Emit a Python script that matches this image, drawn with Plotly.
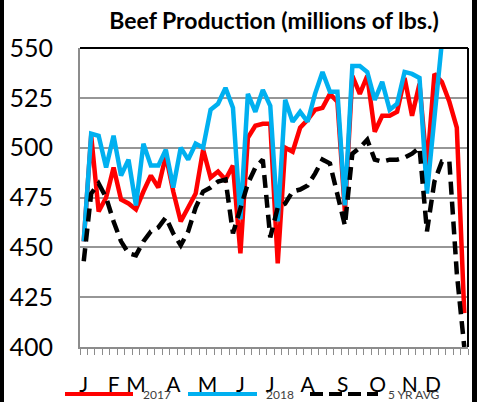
import plotly.graph_objects as go

# ---- data (weekly, 52 weeks) ----
weeks = list(range(1, 53))
prod_2017 = [453, 506, 468, 475, 490, 474, 472, 469, 478, 486, 480, 496, 478, 463, 470, 477,
             499, 485, 488, 484, 491, 447, 505, 511, 512, 512, 442, 500, 498, 510, 514, 519,
             520, 527, 523, 468, 536, 527, 536, 508, 516, 516, 518, 535, 516, 532, 490, 537,
             533, 523, 510, 417]
prod_2018 = [453, 507, 506, 490, 506, 486, 494, 471, 502, 491, 491, 499, 480, 500, 494, 502,
             500, 519, 522, 530, 520, 464, 527, 518, 529, 521, 463, 524, 513, 518, 513, 527,
             538, 528, 528, 471, 541, 541, 538, 524, 533, 519, 522, 538, 537, 535, 477, 515,
             553, None, None, None]
avg_5yr = [443, 477, 482, 475, 463, 453, 447, 446, 453, 458, 460, 465, 457, 451, 458, 470,
           478, 480, 483, 484, 457, 470, 482, 490, 494, 455, 470, 472, 478, 479, 481, 487,
           494, 492, 477, 461, 497, 500, 504, 494, 493, 494, 494, 495, 497, 500, 458, 483,
           493, 493, 437, 400]
month_labels = ["J", "F", "M", "A", "M", "J", "J", "A", "S", "O", "N", "D"]
month_weeks = [1, 5, 8, 13, 17.6, 22, 26, 31, 35.7, 40.4, 44.7, 47.8]
y_ticks = [400, 425, 450, 475, 500, 525, 550]

FONT = "Lato"
RED = "#FF0000"
BLUE = "#00B0F0"

fig = go.Figure()
fig.add_trace(go.Scatter(x=weeks, y=prod_2017, mode="lines", name="2017",
                         line=dict(color=RED, width=4.5), showlegend=False))
fig.add_trace(go.Scatter(x=weeks, y=prod_2018, mode="lines", name="2018",
                         line=dict(color=BLUE, width=4.5), showlegend=False))
fig.add_trace(go.Scatter(x=weeks, y=avg_5yr, mode="lines", name="5 YR AVG",
                         line=dict(color="black", width=4.5, dash="13px,7px"), showlegend=False))

fig.update_layout(
    width=477, height=402,
    margin=dict(l=80, r=9, t=48, b=55, autoexpand=False),
    paper_bgcolor="white", plot_bgcolor="white",
    font=dict(family=FONT, color="black"),
    title=dict(text="<b>Beef Production (millions of lbs.)</b>", x=0.5, xref="paper",
               y=1 - 21 / 402, yref="container", yanchor="middle", xanchor="center",
               font=dict(family=FONT, size=23, color="black")),
    xaxis=dict(range=[0.5, 52.5], tickmode="array", tickvals=month_weeks, ticktext=month_labels,
               ticks="", showgrid=False, zeroline=False, showline=True, linecolor="#8c8c8c",
               linewidth=2, tickfont=dict(size=21, family=FONT), ticklabelstandoff=18,
               automargin=False,
               minor=dict(tick0=0.5, dtick=1, ticks="outside", ticklen=6, tickcolor="#8c8c8c",
                          tickwidth=1, showgrid=False)),
    yaxis=dict(range=[400, 550], tickmode="array", tickvals=y_ticks, ticks="",
               showgrid=True, gridcolor="#969696", gridwidth=2, zeroline=False,
               showline=True, linecolor="#8c8c8c", linewidth=2, automargin=False,
               tickfont=dict(size=25, family=FONT), ticklabelstandoff=20),
)

W, H = 388.0, 299.0
def px(x):
    return (x - 80) / W
def py(y):
    return (347 - y) / H

# plot-area frame (top/right) and dark outer side edges
fig.add_shape(type="line", xref="paper", yref="paper", x0=0, x1=1, y0=1, y1=1,
              line=dict(color="black", width=2))
fig.add_shape(type="line", xref="paper", yref="paper", x0=1, x1=1, y0=0, y1=1,
              line=dict(color="black", width=2))
fig.add_shape(type="rect", xref="paper", yref="paper", x0=px(0), x1=px(4), y0=py(402), y1=py(0),
              line=dict(width=0), fillcolor="black")
fig.add_shape(type="rect", xref="paper", yref="paper", x0=px(472), x1=px(477), y0=py(402), y1=py(0),
              line=dict(width=0), fillcolor="black")

# legend drawn at the bottom
legend_items = [("2017", RED, "solid", 65, 133, 141),
                ("2018", BLUE, "solid", 188, 257, 264),
                ("5 YR AVG", "black", "13px,6px", 310, 378, 386)]
for name, col, dash, xa, xb, xt in legend_items:
    fig.add_shape(type="line", xref="paper", yref="paper", x0=px(xa), x1=px(xb),
                  y0=py(394), y1=py(394), line=dict(color=col, width=4, dash=dash))
    fig.add_annotation(text=name, xref="paper", yref="paper", x=px(xt), y=py(394),
                       xanchor="left", yanchor="middle", showarrow=False,
                       font=dict(size=12, family=FONT, color="#404040"))

fig.write_html("out.html", config={"displayModeBar": False},
               post_script="document.body.style.margin='0px';")
